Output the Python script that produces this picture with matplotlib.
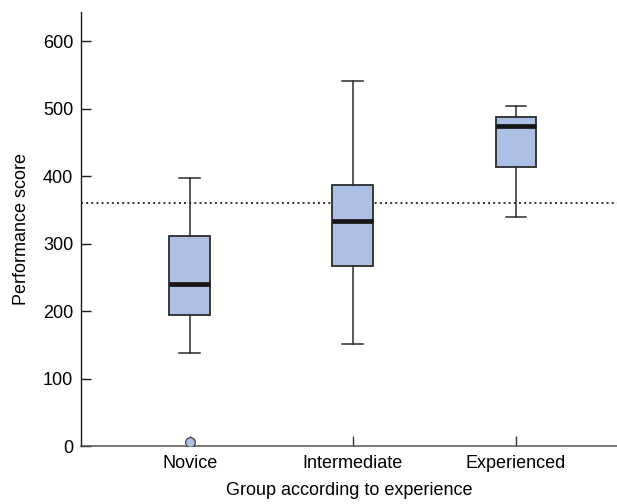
import matplotlib
matplotlib.use("Agg")
import matplotlib.pyplot as plt

# values
groups = ["Novice", "Intermediate", "Experienced"]
whisker_low = [138, 152, 340]
q1 = [195, 267, 413]
median = [241, 334, 474]
q3 = [311, 387, 487]
whisker_high = [398, 541, 504]
outliers = [[7], [], []]
reference_level = 360

plt.rcParams["font.family"] = ["Liberation Sans", "DejaVu Sans"]
plt.rcParams["font.size"] = 13

fig = plt.figure(figsize=(6.17, 5.04), dpi=100)
ax = fig.add_axes([0.1313, 0.1145, 0.8687, 0.8615])

stats = []
for i, name in enumerate(groups):
    stats.append({
        "label": name,
        "whislo": whisker_low[i],
        "q1": q1[i],
        "med": median[i],
        "q3": q3[i],
        "whishi": whisker_high[i],
        "fliers": outliers[i],
    })

edge = "#2b2b2b"
ax.axhline(reference_level, ls=":", color="#333333", lw=1.4, zorder=1)
ax.bxp(stats, positions=range(len(groups)), widths=0.25, patch_artist=True,
       boxprops=dict(facecolor="#abc0e4", edgecolor=edge, linewidth=1.3),
       medianprops=dict(color="#151515", linewidth=3.4),
       whiskerprops=dict(color=edge, linewidth=1.1),
       capprops=dict(color=edge, linewidth=1.1),
       capwidths=0.127,
       flierprops=dict(marker="o", markerfacecolor="#abc0e4",
                       markeredgecolor="#444444", markersize=7,
                       markeredgewidth=0.9),
       zorder=3)

ax.set_xlim(-0.667, 2.62)
ax.set_ylim(0, 643)
ax.set_yticks([0, 100, 200, 300, 400, 500, 600])
ax.set_xticks(range(len(groups)))
ax.set_xticklabels(groups)

for side in ["top", "right"]:
    ax.spines[side].set_visible(False)
ax.spines["left"].set_color("#1a1a1a")
ax.spines["left"].set_linewidth(1.0)
ax.spines["bottom"].set_color("#555555")
ax.spines["bottom"].set_linewidth(1.1)

ax.tick_params(axis="y", direction="in", length=7.5, width=1.0, color="#1a1a1a", pad=5.5)
ax.tick_params(axis="x", direction="in", length=7, width=1.0, color="#333333", pad=6)

ax.set_ylabel("Performance score", labelpad=9)
ax.set_xlabel("Group according to experience", labelpad=7.5)

fig.savefig("out.png", dpi=100)
